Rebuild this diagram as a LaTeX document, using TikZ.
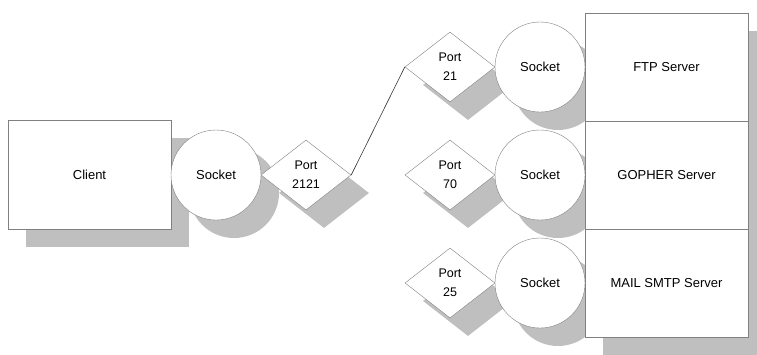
\documentclass[tikz,border=0pt]{standalone}
\usepackage{fontspec}
\setmainfont{Liberation Sans}
\usetikzlibrary{shapes.geometric,shadows}

\tikzset{
  shade18/.style={drop shadow={shadow xshift=18pt,shadow yshift=-18pt,fill=black!25,opacity=1}},
  hostbox/.style={draw=black!50,fill=white,shade18,minimum width=163pt,minimum height=108pt,inner sep=0pt},
  sockcirc/.style={circle,draw=black!50,fill=white,shade18,minimum size=90pt,inner sep=0pt},
  portdiam/.style={diamond,draw=black!50,fill=white,shade18,minimum width=90pt,minimum height=70pt,inner sep=0pt,align=center,font=\fontsize{12.5}{19}\selectfont}
}

\begin{document}
\begin{tikzpicture}[x=1pt,y=-1pt,font=\fontsize{13}{15}\selectfont]
  \useasboundingbox (0,0) rectangle (757,354);
  \clip (0,0) rectangle (757,354);

  % client side
  \node[hostbox,minimum height=109pt] (client) at (89.5,174.5) {Client};
  \node[sockcirc] (csock) at (216,175) {Socket};
  \node[portdiam] (cport) at (306,175) {Port\\2121};

  % server side
  \node[portdiam] (ftpport) at (450,67) {Port\\21};
  \node[portdiam] (gophport) at (450,175) {Port\\70};
  \node[portdiam] (mailport) at (450,283) {Port\\25};
  \node[sockcirc] (ftpsock) at (540,67) {Socket};
  \node[sockcirc] (gophsock) at (540,175) {Socket};
  \node[sockcirc] (mailsock) at (540,283) {Socket};
  \node[hostbox] (ftp) at (666.5,67) {FTP Server};
  \node[hostbox] (gopher) at (666.5,175) {GOPHER Server};
  \node[hostbox] (mail) at (666.5,283) {MAIL SMTP Server};

  \draw[black!80,semithick] (cport.east) -- (ftpport.west);
\end{tikzpicture}
\end{document}
